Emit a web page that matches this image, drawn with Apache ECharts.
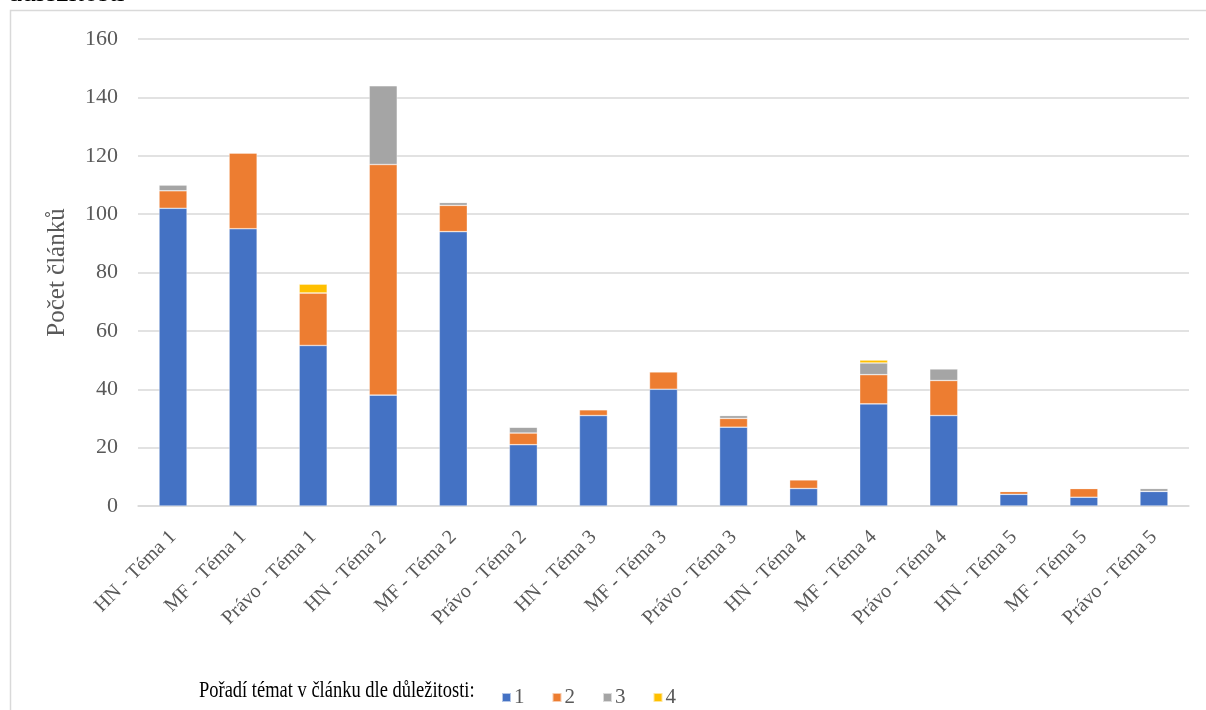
<!DOCTYPE html>
<html>
<head>
<meta charset="utf-8">
<script src="https://cdn.jsdelivr.net/npm/echarts@6/dist/echarts.min.js"></script>
<style>
  html, body { margin: 0; padding: 0; background: #fff; }
  #chart { width: 1206px; height: 710px; }
</style>
</head>
<body>
<div id="chart"></div>
<script>
// Počet článků podle médií a témat, rozdělený podle pořadí tématu v článku
const categories = [
  'HN - Téma 1', 'MF - Téma 1', 'Právo - Téma 1',
  'HN - Téma 2', 'MF - Téma 2', 'Právo - Téma 2',
  'HN - Téma 3', 'MF - Téma 3', 'Právo - Téma 3',
  'HN - Téma 4', 'MF - Téma 4', 'Právo - Téma 4',
  'HN - Téma 5', 'MF - Téma 5', 'Právo - Téma 5'
];
const rank1 = [102, 95, 55, 38, 94, 21, 31, 40, 27, 6, 35, 31, 4, 3, 5];
const rank2 = [6, 26, 18, 79, 9, 4, 2, 6, 3, 3, 10, 12, 1, 3, 0];
const rank3 = [2, 0, 0, 27, 1, 2, 0, 0, 1, 0, 4, 4, 0, 0, 1];
const rank4 = [0, 0, 3, 0, 0, 0, 0, 0, 0, 0, 1, 0, 0, 0, 0];
const seriesNames = ['1', '2', '3', '4'];
const yTicks = { min: 0, max: 160, interval: 20 };

const serif = '"Liberation Serif", "DejaVu Serif", serif';
const colors = ['#4472C4', '#ED7D31', '#A5A5A5', '#FFC000'];
const values = [rank1, rank2, rank3, rank4];

const chart = echarts.init(document.getElementById('chart'), null, { renderer: 'canvas' });

chart.setOption({
  animation: false,
  color: colors,
  grid: { left: 138, right: 17, top: 39, bottom: 204, containLabel: false },
  xAxis: {
    type: 'category',
    data: categories,
    axisLine: { lineStyle: { color: '#d9d9d9', width: 1.5 } },
    axisTick: { show: false },
    axisLabel: {
      rotate: 45,
      interval: 0,
      margin: 28,
      fontFamily: serif,
      fontSize: 20,
      color: '#595959'
    }
  },
  yAxis: {
    type: 'value',
    min: yTicks.min,
    max: yTicks.max,
    interval: yTicks.interval,
    name: 'Počet článků',
    nameLocation: 'middle',
    nameRotate: 90,
    nameGap: 68,
    nameTextStyle: { fontFamily: serif, fontSize: 25, color: '#595959' },
    axisLine: { show: false },
    axisTick: { show: false },
    splitLine: { lineStyle: { color: '#d9d9d9', width: 1.5 } },
    axisLabel: { margin: 20, fontFamily: serif, fontSize: 22, color: '#595959' }
  },
  legend: {
    data: seriesNames,
    left: 496,
    top: 682,
    itemWidth: 9,
    itemHeight: 9,
    itemGap: 27,
    icon: 'rect',
    textStyle: { fontFamily: serif, fontSize: 21, color: '#595959', padding: [0, 0, 0, -2] }
  },
  graphic: [
    {
      type: 'rect',
      silent: true,
      shape: { x: 10.5, y: 10.5, width: 1300, height: 800 },
      style: { fill: 'none', stroke: '#d9d9d9', lineWidth: 1.5 }
    },
    {
      type: 'text',
      left: 8,
      top: -20,
      style: { text: 'důležitosti', font: '28px ' + serif, fill: '#000' }
    },
    {
      type: 'text',
      x: 199,
      y: 679,
      scaleX: 0.77,
      style: { text: 'Pořadí témat v článku dle důležitosti:', font: '24px ' + serif, fill: '#000' }
    }
  ],
  series: seriesNames.map((name, i) => ({
    name: name,
    type: 'bar',
    stack: 'total',
    barWidth: 28,
    data: values[i],
    itemStyle: { borderColor: 'rgba(255,255,255,0.6)', borderWidth: 0.6 }
  }))
});
</script>
</body>
</html>
